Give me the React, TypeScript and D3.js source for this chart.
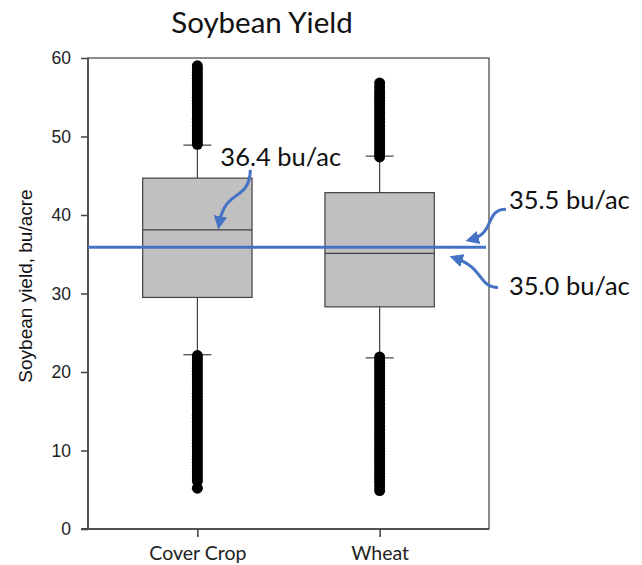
import { useEffect, useRef } from "react";
import * as d3 from "d3";

// categories and box statistics (bu/acre)
const categories = ["Cover Crop", "Wheat"];
const q1 = [29.5, 28.3];
const median = [38.1, 35.1];
const q3 = [44.7, 42.85];
const whiskerLow = [22.2, 21.8];
const whiskerHigh = [48.9, 47.5];

// outliers (dense columns of dots)
const coverOutliers = [
  49.0, 49.4, 49.8, 50.2, 50.6, 51.0, 51.4, 51.8, 52.2, 52.6, 53.0, 53.4, 53.8, 54.2, 54.6,
  55.0, 55.4, 55.8, 56.2, 56.6, 57.0, 57.4, 57.8, 58.2, 58.6, 59.0,
  22.1, 21.7, 21.3, 20.9, 20.5, 20.1, 19.7, 19.3, 18.9, 18.5, 18.1, 17.7, 17.3, 16.9, 16.5,
  16.1, 15.7, 15.3, 14.9, 14.5, 14.1, 13.7, 13.3, 12.9, 12.5, 12.1, 11.7, 11.3, 10.9, 10.5,
  10.1, 9.7, 9.3, 8.9, 8.5, 8.1, 7.7, 7.3, 6.9, 6.5, 6.1, 5.2,
];
const wheatOutliers = [
  47.4, 47.8, 48.2, 48.6, 49.0, 49.4, 49.8, 50.2, 50.6, 51.0, 51.4, 51.8, 52.2, 52.6, 53.0,
  53.4, 53.8, 54.2, 54.6, 55.0, 55.4, 55.8, 56.3, 56.8,
  21.9, 21.5, 21.1, 20.7, 20.3, 19.9, 19.5, 19.1, 18.7, 18.3, 17.9, 17.5, 17.1, 16.7, 16.3,
  15.9, 15.5, 15.1, 14.7, 14.3, 13.9, 13.5, 13.1, 12.7, 12.3, 11.9, 11.5, 11.1, 10.7, 10.3,
  9.9, 9.5, 9.1, 8.7, 8.3, 7.9, 7.5, 7.1, 6.7, 6.3, 5.9, 5.4, 4.9,
];
const outliers = [coverOutliers, wheatOutliers];

const yTicks = [0, 10, 20, 30, 40, 50, 60];
const overallMean = 35.9;
const annotationLabels = ["36.4 bu/ac", "35.5 bu/ac", "35.0 bu/ac"];

const App = () => {
  const ref = useRef<SVGSVGElement>(null);

  useEffect(() => {
    document.body.style.margin = "0";
    const svg = d3.select(ref.current);
    svg.selectAll("*").remove();

    var margin = { top: 58, right: 153, bottom: 36, left: 88 },
      width = 642 - margin.left - margin.right,
      height = 565 - margin.top - margin.bottom;

    var g = svg.append("g").attr("transform", `translate(${margin.left},${margin.top})`);

    var x = d3.scalePoint().domain(categories).range([0, width]).padding(0.6);
    var y = d3.scaleLinear().domain([0, 60]).range([height, 0]);
    const boxW = x.step() * 0.6;
    const capW = 28;

    // frame (top / right)
    g.append("rect")
      .attr("width", width)
      .attr("height", height)
      .attr("fill", "none")
      .attr("stroke", "#404040")
      .attr("stroke-width", 1.2);

    // axes
    const yAxis = g.append("g").call(d3.axisLeft(y).tickValues(yTicks).tickSize(7).tickPadding(10));
    yAxis.selectAll("text")
      .attr("font-family", "'Liberation Sans', Arial, sans-serif")
      .attr("font-size", 17.5)
      .attr("fill", "#222");
    yAxis.select(".domain").attr("d", `M-7,${height}H0V0`);

    const xAxis = g.append("g")
      .attr("transform", `translate(0,${height})`)
      .call(d3.axisBottom(x).tickSize(8).tickPadding(9));
    xAxis.selectAll("text")
      .attr("font-family", "Lato, 'Open Sans', sans-serif")
      .attr("font-size", 19.5)
      .attr("fill", "#222");
    xAxis.select(".domain").attr("d", `M-7,0H${width}`);
    svg.selectAll(".domain, .tick line").attr("stroke", "#404040").attr("stroke-width", 1.5);

    // whiskers, boxes, medians, outliers
    categories.forEach((c, i) => {
      const cx = x(c)!;
      [[whiskerLow[i], q1[i]], [q3[i], whiskerHigh[i]]].forEach(([a, b]) => {
        g.append("line")
          .attr("x1", cx).attr("x2", cx)
          .attr("y1", y(a)).attr("y2", y(b))
          .attr("stroke", "#404040").attr("stroke-width", 1.2);
      });
      [whiskerLow[i], whiskerHigh[i]].forEach((v) => {
        g.append("line")
          .attr("x1", cx - capW / 2).attr("x2", cx + capW / 2)
          .attr("y1", y(v)).attr("y2", y(v))
          .attr("stroke", "#404040").attr("stroke-width", 1.2);
      });
      g.append("rect")
        .attr("x", cx - boxW / 2)
        .attr("y", y(q3[i]))
        .attr("width", boxW)
        .attr("height", y(q1[i]) - y(q3[i]))
        .attr("fill", "#c0c0c0")
        .attr("stroke", "#404040")
        .attr("stroke-width", 1.2);
      g.append("line")
        .attr("x1", cx - boxW / 2).attr("x2", cx + boxW / 2)
        .attr("y1", y(median[i])).attr("y2", y(median[i]))
        .attr("stroke", "#404040").attr("stroke-width", 1.2);

      g.selectAll(null)
        .data(outliers[i])
        .enter()
        .append("circle")
        .attr("cx", cx)
        .attr("cy", (d) => y(d))
        .attr("r", 5.5)
        .attr("fill", "#000");
    });

    // mean line
    const blue = "#4472c4";
    g.append("line")
      .attr("x1", 0).attr("x2", width - 3)
      .attr("y1", y(overallMean)).attr("y2", y(overallMean))
      .attr("stroke", blue).attr("stroke-width", 3);

    // arrow head
    svg.append("defs").append("marker")
      .attr("id", "head")
      .attr("viewBox", "0 0 10 10")
      .attr("refX", 5).attr("refY", 5)
      .attr("markerWidth", 4.5).attr("markerHeight", 4.5)
      .attr("orient", "auto-start-reverse")
      .append("path")
      .attr("d", "M0,0L10,5L0,10z")
      .attr("fill", blue);

    // annotations
    const c0 = x(categories[0])!;
    const ann = [
      {
        text: annotationLabels[0], tx: c0 + 23, ty: y(median[0]) - 64,
        d: `M${c0 + 53},${y(median[0]) - 60} C${c0 + 52},${y(median[0]) - 28} ${c0 + 28},${y(median[0]) - 42} ${c0 + 22},${y(median[0]) - 7}`,
      },
      {
        text: annotationLabels[1], tx: width + 20, ty: y(overallMean) - 38,
        d: `M${width + 17},${y(overallMean) - 38} C${width - 4},${y(overallMean) - 38} ${width + 6},${y(overallMean) - 14} ${width - 17},${y(overallMean) - 8}`,
      },
      {
        text: annotationLabels[2], tx: width + 20, ty: y(median[1]) + 42,
        d: `M${width + 9},${y(median[1]) + 34} C${width - 10},${y(median[1]) + 34} ${width - 6},${y(median[1]) + 14} ${width - 33},${y(median[1]) + 5}`,
      },
    ];
    ann.forEach((a) => {
      g.append("path")
        .attr("d", a.d)
        .attr("fill", "none")
        .attr("stroke", blue)
        .attr("stroke-width", 3)
        .attr("marker-end", "url(#head)");
      g.append("text")
        .attr("x", a.tx).attr("y", a.ty)
        .attr("font-family", "Lato, 'Open Sans', sans-serif")
        .attr("font-size", 25.5)
        .attr("fill", "#111")
        .text(a.text);
    });

    // title
    svg.append("text")
      .attr("x", 262).attr("y", 33)
      .attr("text-anchor", "middle")
      .attr("font-family", "Lato, 'Open Sans', sans-serif")
      .attr("font-size", 29.5)
      .attr("fill", "#111")
      .text("Soybean Yield");

    // y label
    svg.append("text")
      .attr("transform", `translate(32,286) rotate(-90)`)
      .attr("text-anchor", "middle")
      .attr("font-family", "'Liberation Sans', Arial, sans-serif")
      .attr("font-size", 19)
      .attr("fill", "#111")
      .text("Soybean yield, bu/acre");
  }, []);

  return <svg ref={ref} width={642} height={565} style={{ display: "block", background: "#fff" }} />;
};

export default App;
